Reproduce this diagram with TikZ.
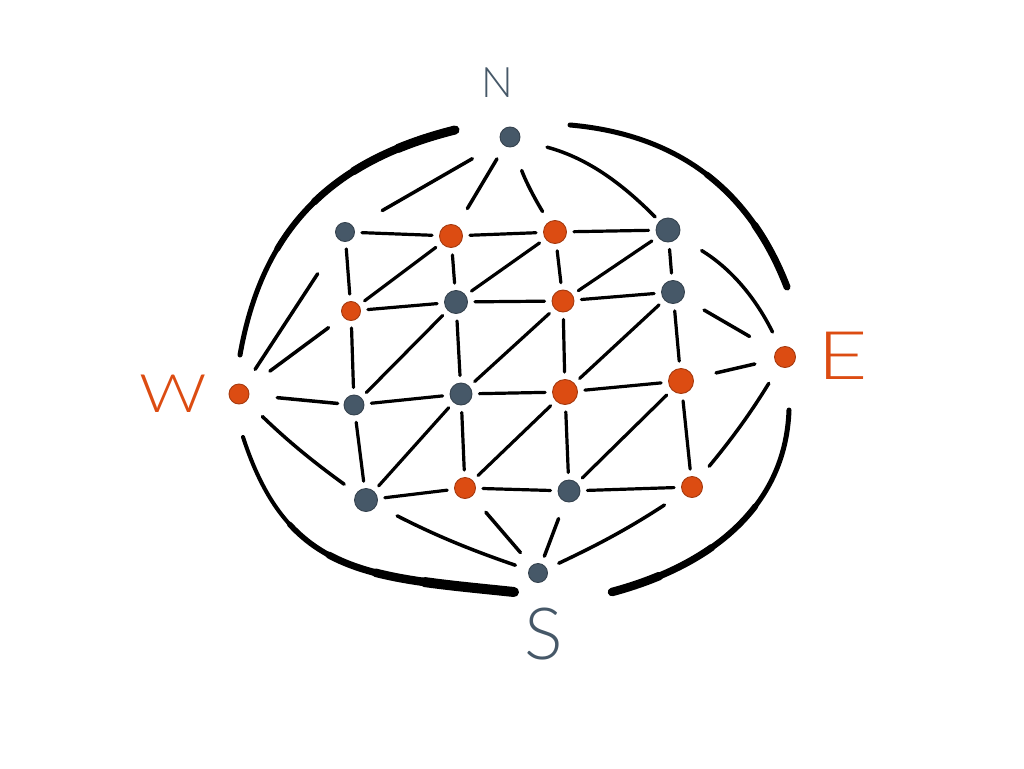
\documentclass[tikz,border=0pt]{standalone}
\usepackage{fontspec}
\usepackage{tikz}
\newfontfamily\handfont{Lato Light}
\definecolor{slate}{RGB}{70,88,104}
\definecolor{rust}{RGB}{220,76,18}

\begin{document}
\begin{tikzpicture}[x=1pt, y=-1pt,
  dot/.style={circle, fill=#1, draw=#1!75!black, line width=0.9pt, inner sep=0pt, minimum size=20pt},
  dotg/.style={dot=slate},
  doto/.style={dot=rust},
  edge/.style={line width=3.2pt, line cap=round, shorten <=7pt, shorten >=7pt},
  spoke/.style={line width=3.5pt, line cap=round},
  rim/.style={line cap=round, line width=#1},
  lab/.style={inner sep=0pt}
]
\useasboundingbox (0,0) rectangle (1024,768);
% compass points and grid dots
\foreach \n/\x/\y/\k/\d in {N/510/137/g/20pt, W/239/394/o/20pt, E/785/357/o/21pt, S/538/573/g/19pt,
  p11/345/232/g/19pt, p12/451/236/o/23pt, p13/555/232/o/23pt, p14/668/230/g/24pt,
  p21/351/311/o/19pt, p22/456/302/g/23pt, p23/563/301/o/22pt, p24/673/292/g/23pt,
  p31/354/405/g/20pt, p32/461/394/g/22pt, p33/565/392/o/25pt, p34/681/381/o/25pt,
  p41/366/500/g/23pt, p42/465/488/o/21pt, p43/569/491/g/22pt, p44/692/487/o/21pt}
  \node[dot\k, minimum size=\d] (\n) at (\x,\y) {};
\node[lab, text=slate, font=\handfont\fontsize{42}{42}\selectfont] (lN) at (497,83) {N};
\node[lab, text=rust, xscale=1.25, font=\handfont\fontsize{53}{53}\selectfont] (lW) at (173,394) {W};
\node[lab, text=rust, xscale=1.3, font=\handfont\fontsize{67}{67}\selectfont] (lE) at (843,356) {E};
\node[lab, text=slate, font=\handfont\fontsize{72}{72}\selectfont] (lS) at (544,634) {S};
% grid
\foreach \r in {1,...,4} {\foreach \a/\b in {1/2,2/3,3/4} {\draw[edge] (p\r\a) -- (p\r\b); \draw[edge] (p\a\r) -- (p\b\r);}}
\foreach \r/\s in {2/1,3/2,4/3} {\foreach \a/\b in {1/2,2/3,3/4} \draw[edge] (p\r\a) -- (p\s\b);}
% spokes: target / bend / gap at hub / gap at dot
\foreach \c/\b/\g/\h in {1/0/33pt/33pt, 2/0/15pt/20pt, 3/-6/25pt/12pt, 4/15/28pt/6pt}
  \draw[spoke, shorten <=\g, shorten >=\h] (N) to[bend left=\b] (p1\c);
\foreach \r/\b/\g/\h in {1/0/19pt/40pt, 2/0/28pt/18pt, 3/0/28pt/6pt, 4/4/22pt/15pt}
  \draw[spoke, shorten <=\g, shorten >=\h] (W) to[bend right=\b] (p\r1);
\foreach \r/\b/\g/\h in {1/16/17pt/27pt, 2/0/30pt/24pt, 3/0/20pt/23pt, 4/-4/20pt/16pt}
  \draw[spoke, shorten <=\g, shorten >=\h] (E) to[bend right=\b] (p\r4);
\foreach \c/\b/\g/\h in {1/4/14pt/23pt, 2/0/17pt/21pt, 3/0/8pt/18pt, 4/-4/13pt/22pt}
  \draw[spoke, shorten <=\g, shorten >=\h] (S) to[bend left=\b] (p4\c);
% outer rims, loose ends beside the compass points
\coordinate (nwN) at ([shift={(-55,-7)}]N.center);   \coordinate (nwW) at ([shift={(1,-39)}]W.center);
\coordinate (neE) at ([shift={(2,-70)}]E.center);    \coordinate (neN) at ([shift={(60,-12)}]N.center);
\coordinate (esS) at ([shift={(74,19)}]S.center);    \coordinate (esE) at ([shift={(4,53)}]E.center);
\coordinate (swS) at ([shift={(-24,19)}]S.center);   \coordinate (swW) at ([shift={(4,43)}]W.center);
\foreach \w/\l in {5pt/2000pt, 6pt/220pt, 7pt/160pt, 8pt/110pt, 9pt/60pt}
  \draw[rim=\w, dash pattern=on \l off 2000pt] (nwN) to[out=194, in=80, looseness=1.05] (nwW);
\foreach \w/\l in {5pt/2000pt, 6pt/140pt, 7pt/70pt}
  \draw[rim=\w, dash pattern=on \l off 2000pt] (neE) to[out=111, in=-5, looseness=1] (neN);
\foreach \w/\l in {5pt/2000pt, 6pt/170pt, 7pt/110pt, 8.5pt/50pt}
  \draw[rim=\w, dash pattern=on \l off 2000pt] (esS) to[out=15, in=268, looseness=1] (esE);
\foreach \w/\l in {4pt/2000pt, 5.5pt/240pt, 7pt/190pt, 8.5pt/140pt, 10pt/90pt}
  \draw[rim=\w, dash pattern=on \l off 2000pt] (swS) to[out=174, in=288, looseness=1.2] (swW);
\end{tikzpicture}
\end{document}
